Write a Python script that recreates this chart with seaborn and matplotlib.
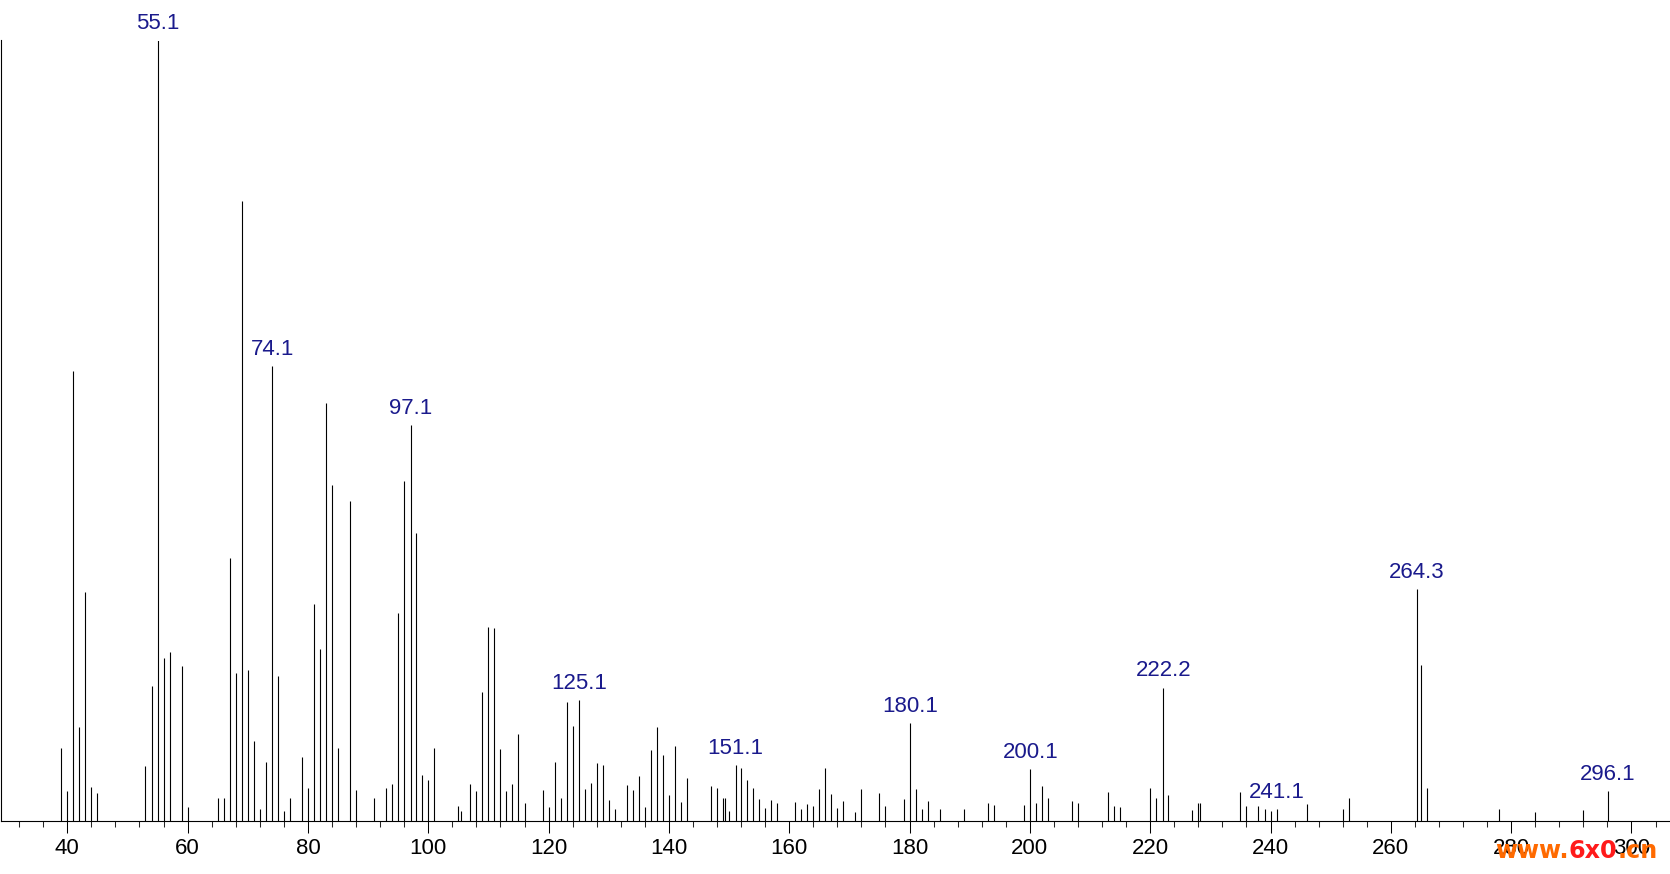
#importing necessary libraries
import matplotlib
matplotlib.use('Agg')
import matplotlib.pyplot as plt
from matplotlib.ticker import MultipleLocator
import seaborn as sns

# peak list (m/z, relative intensity %)
mz = [39, 40, 41, 42, 43, 44, 45, 53, 54, 55.1, 56, 57, 59, 60,
      65, 66, 67, 68, 69, 70, 71, 72, 73, 74.1, 75, 76, 77,
      79, 80, 81, 82, 83, 84, 85, 87, 88, 91, 93, 94, 95, 96, 97.1, 98, 99, 100,
      101, 105, 105.4, 107, 108, 109, 110, 111, 112, 113, 114, 115, 116,
      119, 120, 121, 122, 123, 124, 125.1, 126, 127, 128, 129, 130, 131,
      133, 134, 135, 136, 137, 138, 139, 140, 141, 142, 143,
      147, 148, 149, 149.3, 150, 151.1, 152, 153, 154, 155, 156, 157, 158,
      161, 162, 163, 164, 165, 166, 167, 168, 169, 171, 172, 175, 176,
      179, 180.1, 181, 182, 183, 185, 189, 193, 194, 199, 200.1, 201, 202, 203,
      207, 208, 213, 214, 215, 220, 221, 222.2, 223, 227, 228, 228.35,
      235, 236, 238, 239, 240, 241.1, 246, 252, 253,
      264.3, 265, 266, 278, 284, 292, 296.1]
intensity = [9.3, 3.8, 57.6, 12.1, 29.4, 4.3, 3.6, 7.0, 17.3, 100, 20.9, 21.6, 19.9, 1.8,
             3.0, 2.9, 33.7, 18.9, 79.4, 19.3, 10.3, 1.6, 7.5, 58.3, 18.6, 1.3, 2.9,
             8.2, 4.2, 27.8, 22.1, 53.5, 43.0, 9.3, 41.0, 4.0, 2.9, 4.2, 4.8, 26.6, 43.5, 50.7, 36.9, 5.9, 5.2,
             9.3, 1.9, 1.3, 4.8, 3.8, 16.5, 24.9, 24.7, 9.2, 3.8, 4.8, 11.2, 2.3,
             4.0, 1.8, 7.5, 2.9, 15.3, 12.2, 15.5, 4.1, 4.9, 7.4, 7.2, 2.7, 1.5,
             4.6, 4.0, 5.8, 1.8, 9.1, 12.1, 8.5, 3.3, 9.6, 2.4, 5.5,
             4.5, 4.2, 2.9, 2.9, 1.3, 7.2, 6.8, 5.3, 4.2, 2.8, 1.7, 2.7, 2.3,
             2.4, 1.5, 2.2, 1.9, 4.1, 6.8, 3.5, 1.7, 2.6, 1.2, 4.1, 3.6, 1.9,
             2.8, 12.5, 4.1, 1.5, 2.6, 1.6, 1.6, 2.3, 2.1, 2.1, 6.7, 2.3, 4.5, 3.0,
             2.6, 2.3, 3.7, 1.9, 1.8, 4.2, 2.9, 17.1, 3.3, 1.4, 2.3, 2.3,
             3.7, 1.9, 1.9, 1.5, 1.3, 1.5, 2.2, 1.5, 2.9,
             29.7, 20.0, 4.2, 1.5, 1.2, 1.4, 3.8]

# peaks that carry a label
labeled_mz = [55.1, 74.1, 97.1, 125.1, 151.1, 180.1, 200.1, 222.2, 241.1, 264.3, 296.1]
labels = ['55.1', '74.1', '97.1', '125.1', '151.1', '180.1', '200.1', '222.2', '241.1', '264.3', '296.1']

sns.set_theme(style='ticks')
plt.rcParams['font.family'] = ['Liberation Sans', 'DejaVu Sans']

fig = plt.figure(figsize=(16.7, 8.74), dpi=100)
ax = fig.add_axes([0.5 / 1670, 1 - 821 / 874, 1 - 0.5 / 1670, (821 - 40.5) / 874])

# stick spectrum
ax.vlines(mz, 0, intensity, colors='black', linewidth=0.8)

# peak labels
for m, txt in zip(labeled_mz, labels):
    h = intensity[mz.index(m)]
    ax.annotate(txt, xy=(m, h), xytext=(0, 8), textcoords='offset points',
                ha='center', va='baseline', fontsize=16, color='#1a1a8c',
                annotation_clip=False)

ax.set_xlim(28.9, 306.4)
ax.set_ylim(0, 100)
ax.xaxis.set_major_locator(MultipleLocator(20))
ax.xaxis.set_minor_locator(MultipleLocator(4))
ax.tick_params(axis='x', which='major', length=8.6, width=0.75, labelsize=16, pad=4, colors='black')
ax.tick_params(axis='x', which='minor', length=4.3, width=0.75)
ax.set_yticks([])
ax.set_xlabel('')
ax.set_ylabel('')
sns.despine(ax=ax)
for side in ['left', 'bottom']:
    ax.spines[side].set_linewidth(0.8)
    ax.spines[side].set_color('black')
ax.patch.set_alpha(0)

# site watermark
t1 = fig.text(1495 / 1670, 1 - 858 / 874, 'www.', fontsize=17.2, fontweight='bold',
              color='#ff6a00', family='DejaVu Sans', va='baseline')
t2 = ax.annotate('6x0', xy=(1, 0), xycoords=t1, va='bottom', ha='left',
                 fontsize=17.2, fontweight='bold', color='#ff1a1a', family='DejaVu Sans',
                 annotation_clip=False)
t3 = ax.annotate('.cn', xy=(1, 0), xycoords=t2, va='bottom', ha='left',
                 fontsize=17.2, fontweight='bold', color='#ff6a00', family='DejaVu Sans',
                 annotation_clip=False)

fig.savefig('out.png', dpi=100)
